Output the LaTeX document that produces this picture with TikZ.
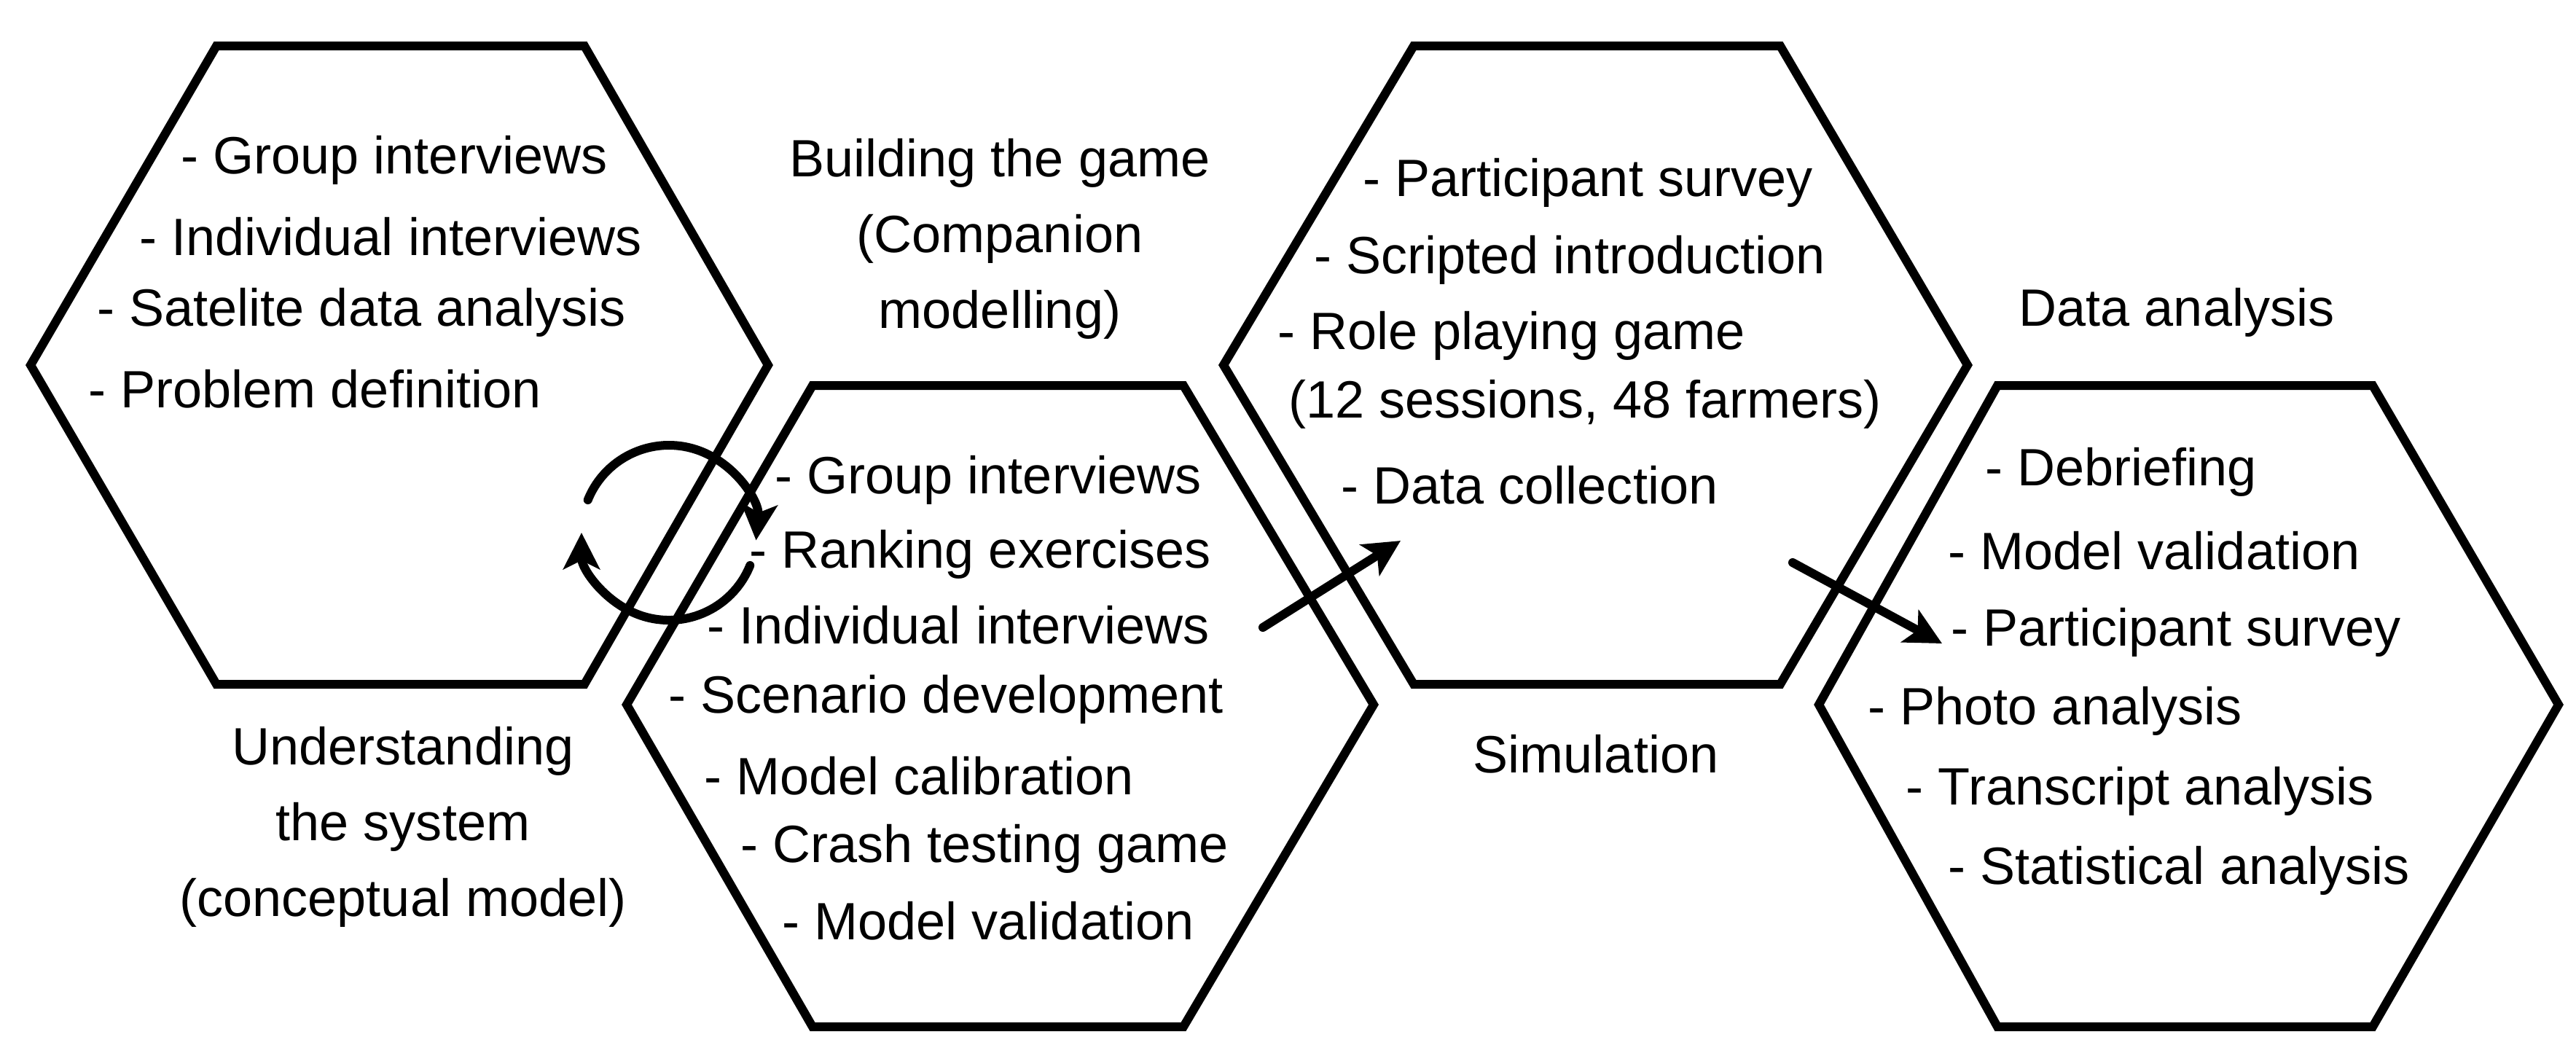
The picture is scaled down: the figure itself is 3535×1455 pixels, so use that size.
\documentclass[tikz,border=0pt]{standalone}
\usepackage{fontspec}
\setmainfont{Liberation Sans}
\usetikzlibrary{arrows.meta}
\begin{document}
\begin{tikzpicture}[x=0.1mm,y=-0.1mm,
  hex/.style={line width=1.2mm,line join=miter},
  t/.style={anchor=west,inner sep=0pt,font=\fontsize{20.5}{24}\selectfont},
  lbl/.style={inner sep=0pt,align=center,font=\fontsize{20.5}{29.6}\selectfont},
  arr/.style={line width=1.2mm,line cap=round,-{Stealth[length=5mm,width=5mm,inset=1.2mm]}}]
\useasboundingbox (0,0) rectangle (3535,1455);
% hexagons
\draw[hex] (42,501) -- (297,63) -- (802,63) -- (1054,501) -- (802,939) -- (297,939) -- cycle;
\draw[hex] (860,967) -- (1115,529) -- (1624,529) -- (1885,967) -- (1624,1409) -- (1115,1409) -- cycle;
\draw[hex] (1679,501) -- (1940,63) -- (2443,63) -- (2700,501) -- (2443,939) -- (1940,939) -- cycle;
\draw[hex] (2496,967) -- (2741,529) -- (3256,529) -- (3511,967) -- (3256,1409) -- (2741,1409) -- cycle;
% hex 1
\node[t] (a1) at (248,220) {- Group interviews};
\node[t] (a2) at (191,325) {- Individual interviews};
\node[t] (a3) at (133,429) {- Satelite data analysis};
\node[t] (a4) at (121,534) {- Problem definition};
\node[lbl] (la) at (553,1135) {Understanding\\the system\\(conceptual model)};
% hex 2
\node[t] (b1) at (1063,659) {- Group interviews};
\node[t] (b2) at (1028,761) {- Ranking exercises};
\node[t] (b3) at (970,858) {- Individual interviews};
\node[t] (b4) at (917,960) {- Scenario development};
\node[t] (b5) at (966,1065) {- Model calibration};
\node[t] (b6) at (1016,1165) {- Crash testing game};
\node[t] (b7) at (1073,1264) {- Model validation};
\node[lbl] (lb) at (1372,328) {Building the game\\(Companion\\modelling)};
% hex 3
\node[t] (c1) at (1870,251) {- Participant survey};
\node[t] (c2) at (1803,357) {- Scripted introduction};
\node[t] (c3) at (1753,461) {- Role playing game};
\node[t] (c4) at (1768,555) {(12 sessions, 48 farmers)};
\node[t] (c5) at (1840,666) {- Data collection};
\node[lbl] (lc) at (2190,1035) {Simulation};
% hex 4
\node[t] (d1) at (2724,648) {- Debriefing};
\node[t] (d2) at (2673,756) {- Model validation};
\node[t] (d3) at (2677,868) {- Participant survey};
\node[t] (d4) at (2563,976) {- Photo analysis};
\node[t] (d5) at (2615,1086) {- Transcript analysis};
\node[t] (d6) at (2673,1195) {- Statistical analysis};
\node[lbl] (ld) at (2987,429) {Data analysis};
% arrows
\coordinate (p1) at (1733,861);
\coordinate (p2) at (1922,742);
\coordinate (q1) at (2460,772);
\coordinate (q2) at (2665,883);
\draw[arr] (p1) -- (p2);
\draw[arr] (q1) -- (q2);
% cycle arrows
\coordinate (cc) at (918,731);
\draw[arr] ([shift={(-158:120)}]cc) arc[start angle=-158,end angle=5,radius=120];
\draw[arr] ([shift={(22:120)}]cc) arc[start angle=22,end angle=180,radius=120];
\end{tikzpicture}
\end{document}
